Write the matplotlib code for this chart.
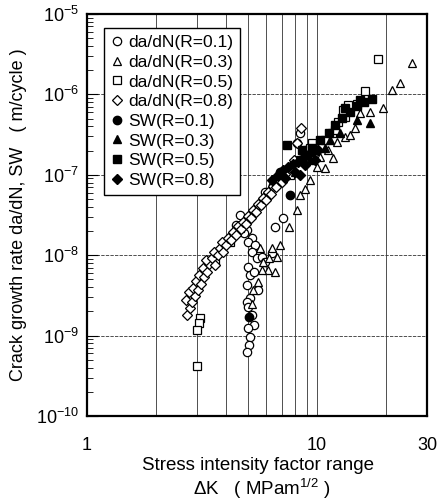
import matplotlib
matplotlib.use('Agg')
import matplotlib.pyplot as plt
from matplotlib.ticker import LogLocator, NullFormatter, FixedLocator

plt.rcParams['font.family'] = ['Liberation Sans', 'DejaVu Sans']
plt.rcParams['mathtext.fontset'] = 'custom'
plt.rcParams['mathtext.rm'] = 'Liberation Sans'

# da/dN, R=0.8 (open diamonds)
dk_08 = [2.72, 2.80, 2.69, 2.86, 2.95, 2.78, 2.89, 3.04, 2.98, 3.13, 3.07, 3.23,
         3.19, 3.32, 3.39, 3.29, 3.50, 3.60, 3.57, 3.71, 3.79, 3.90, 3.86, 4.02,
         4.10, 4.23, 4.31, 4.44, 4.53, 4.67, 4.77, 4.91, 5.01, 5.16, 5.27, 5.43,
         5.54, 5.71, 5.82, 6.00, 6.12, 6.31, 6.44, 6.63, 6.84, 7.04, 7.26, 7.55,
         7.94, 8.18, 8.52]
da_08 = [1.8e-9, 2.2e-9, 2.8e-9, 2.6e-9, 3.1e-9, 3.5e-9, 3.9e-9, 3.7e-9, 4.8e-9,
         4.4e-9, 5.7e-9, 5.4e-9, 6.9e-9, 6.2e-9, 7.8e-9, 8.7e-9, 9.2e-9, 7.6e-9,
         1.10e-8, 1.0e-8, 1.23e-8, 1.10e-8, 1.46e-8, 1.34e-8, 1.64e-8, 1.55e-8,
         1.95e-8, 1.78e-8, 2.31e-8, 2.12e-8, 2.59e-8, 2.44e-8, 3.1e-8, 2.9e-8,
         3.65e-8, 3.4e-8, 4.3e-8, 4.2e-8, 5.1e-8, 4.9e-8, 6.1e-8, 5.8e-8, 7.3e-8,
         7.0e-8, 8.6e-8, 8.1e-8, 1.02e-7, 1.22e-7, 1.53e-7, 2.5e-7, 3.8e-7]

# da/dN, R=0.1 (open circles)
dk_01 = [4.86, 4.96, 5.22, 5.01, 5.37, 5.22, 5.48, 5.77, 5.94, 6.37, 5.01, 5.11,
         5.32, 4.96, 5.54, 5.11, 4.96, 5.01, 5.22, 5.32, 5.01, 5.11, 5.06, 4.96,
         6.57, 7.11, 4.63, 4.44, 5.94, 6.44, 6.91, 8.18, 8.44, 5.65, 4.82]
da_01 = [2.5e-8, 2.06e-8, 1.64e-8, 1.46e-8, 1.34e-8, 1.10e-8, 9.2e-9, 9.5e-9,
         8.2e-9, 1.06e-8, 7.1e-9, 5.7e-9, 6.2e-9, 4.3e-9, 3.7e-9, 2.9e-9, 2.6e-9,
         2.3e-9, 1.8e-9, 1.35e-9, 1.24e-9, 9.6e-10, 7.6e-10, 6.3e-10, 2.24e-8,
         2.9e-8, 3.16e-8, 2.37e-8, 6.1e-8, 7.5e-8, 9.95e-8, 2.5e-7, 3.3e-7,
         4.2e-8, 1.89e-8]

# da/dN, R=0.3 (open triangles)
dk_03 = [5.22, 5.54, 5.27, 5.65, 5.82, 6.12, 6.37, 6.18, 6.57, 6.70, 5.77, 6.91,
         7.55, 8.18, 8.87, 9.32, 8.44, 10.0, 10.3, 10.8, 11.1, 11.7, 12.2, 13.2,
         13.9, 14.6, 15.4, 17.0, 19.4, 21.2, 23.0, 25.9]
da_03 = [2.5e-9, 4.6e-9, 3.7e-9, 1.23e-8, 8.2e-9, 6.5e-9, 1.23e-8, 9.2e-9, 6.2e-9,
         9.5e-9, 6.5e-9, 1.34e-8, 2.24e-8, 3.65e-8, 6.7e-8, 8.6e-8, 5.6e-8,
         1.25e-7, 1.66e-7, 1.22e-7, 2.03e-7, 1.62e-7, 2.56e-7, 2.95e-7, 3.1e-7,
         3.8e-7, 5.9e-7, 6.0e-7, 6.8e-7, 1.13e-6, 1.39e-6, 2.46e-6]

# da/dN, R=0.5 (open squares)
dk_05 = [3.10, 3.07, 3.01, 3.01, 3.60, 4.18, 4.63, 7.63, 8.44, 9.14, 9.32, 9.51,
         10.8, 11.6, 12.0, 12.3, 13.2, 13.0, 13.6, 14.9, 16.2, 18.4]
da_05 = [1.66e-9, 1.43e-9, 1.17e-9, 4.2e-10, 8.2e-9, 1.46e-8, 2.18e-8, 9.95e-8,
         1.53e-7, 2.03e-7, 2.15e-7, 2.5e-7, 2.7e-7, 3.3e-7, 3.6e-7, 4.5e-7,
         5.2e-7, 6.4e-7, 7.4e-7, 7.6e-7, 1.10e-6, 2.75e-6]

# SW (filled markers)
sw_dk_01 = [7.63, 5.06, 6.91, 8.44]
sw_da_01 = [5.6e-8, 1.70e-9, 1.08e-7, 1.53e-7]

sw_dk_03 = [17.0, 14.9, 12.6, 11.4, 10.8, 9.32, 8.02]
sw_da_03 = [4.4e-7, 4.8e-7, 3.3e-7, 2.7e-7, 2.15e-7, 1.53e-7, 1.08e-7]

sw_dk_05 = [7.41, 8.61, 9.51, 10.3, 11.2, 12.0, 12.8, 13.9, 14.9, 16.0, 17.3,
            13.2, 15.4]
sw_da_05 = [2.35e-7, 2.03e-7, 2.15e-7, 2.7e-7, 3.3e-7, 4.2e-7, 5.1e-7, 6.0e-7,
            7.2e-7, 8.0e-7, 8.8e-7, 6.8e-7, 8.5e-7]

sw_dk_08 = [6.37, 6.77, 7.11, 7.48, 7.87, 8.27, 8.69, 9.14, 9.61, 10.1, 7.26,
            8.02, 8.87, 9.80, 8.44]
sw_da_08 = [8.6e-8, 9.95e-8, 1.15e-7, 1.25e-7, 1.36e-7, 1.44e-7, 1.62e-7,
            1.76e-7, 1.92e-7, 2.03e-7, 9.1e-8, 1.08e-7, 1.32e-7, 1.53e-7, 9.95e-8]

fig = plt.figure(figsize=(4.44, 5.04), dpi=100)
ax = fig.add_axes([87/444, 1-416/504, 340/444, 402/504])

ms = 6
op = dict(linestyle='none', markerfacecolor='white', markeredgecolor='black',
          markeredgewidth=0.9, markersize=ms)
fp = dict(linestyle='none', color='black', markersize=ms)

ax.plot(dk_01, da_01, 'o', label='da/dN(R=0.1)', **op)
ax.plot(dk_03, da_03, '^', label='da/dN(R=0.3)', **op)
ax.plot(dk_05, da_05, 's', label='da/dN(R=0.5)', **op)
ax.plot(dk_08, da_08, 'D', label='da/dN(R=0.8)', **dict(op, markersize=5))
ax.plot(sw_dk_01, sw_da_01, 'o', label='SW(R=0.1)', **fp)
ax.plot(sw_dk_03, sw_da_03, '^', label='SW(R=0.3)', **fp)
ax.plot(sw_dk_05, sw_da_05, 's', label='SW(R=0.5)', **fp)
ax.plot(sw_dk_08, sw_da_08, 'D', label='SW(R=0.8)', **dict(fp, markersize=5))

ax.set_xscale('log')
ax.set_yscale('log')
ax.set_xlim(1, 30)
ax.set_ylim(1e-10, 1e-5)

ax.xaxis.set_major_locator(FixedLocator([1, 10, 30]))
ax.set_xticklabels(['1', '10', '30'])
ax.xaxis.set_minor_locator(FixedLocator([2, 3, 4, 5, 6, 7, 8, 9, 20]))
ax.xaxis.set_minor_formatter(NullFormatter())
ax.yaxis.set_major_locator(LogLocator(base=10, numticks=10))
ax.yaxis.set_minor_locator(LogLocator(base=10, subs=range(2, 10), numticks=10))
ax.yaxis.set_minor_formatter(NullFormatter())

ax.tick_params(axis='x', which='both', length=0, pad=15, labelsize=13)
ax.tick_params(axis='y', which='major', direction='in', length=8, width=0.8,
               labelsize=13, pad=6)
ax.tick_params(axis='y', which='minor', direction='in', length=4, width=0.6)

ax.grid(True, axis='x', which='both', color='#333333', linewidth=0.6)
ax.grid(True, axis='y', which='major', color='#333333', linewidth=0.6,
        linestyle=(0, (4, 1.5)))
ax.set_axisbelow(True)

for s in ax.spines.values():
    s.set_linewidth(1.6)

ax.set_ylabel('Crack growth rate da/dN, SW   ( m/cycle )', fontsize=13)
ax.yaxis.set_label_coords(-0.176, 0.5)

fig.text(258/444, 1-465/504, 'Stress intensity factor range', ha='center',
         va='center', fontsize=13.5)
fig.text(262/444, 1-489/504, r'$\Delta$K   ( MPam$^{1/2}$ )', ha='center',
         va='center', fontsize=13.5)

leg = ax.legend(loc='upper left', bbox_to_anchor=(0.05, 0.965), borderaxespad=0,
                fontsize=12.5, handlelength=0.7, handletextpad=0.3,
                labelspacing=0.26, borderpad=0.4, fancybox=False,
                framealpha=1, edgecolor='black')
leg.get_frame().set_linewidth(1.0)

fig.savefig('out.png', dpi=100)
